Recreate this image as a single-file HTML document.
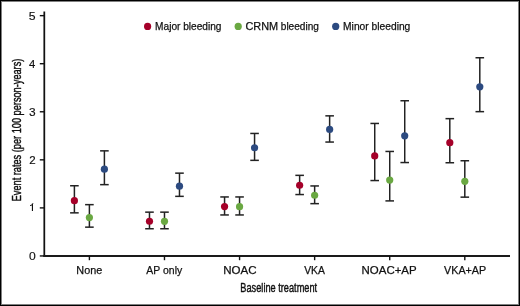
<!DOCTYPE html>
<html><head><meta charset="utf-8"><title>Event rates by baseline treatment</title><style>
html,body{margin:0;padding:0;background:#fff;}
body{width:520px;height:306px;overflow:hidden;position:relative;font-family:"Liberation Sans",sans-serif;}
svg{position:absolute;left:0;top:0;will-change:transform;}
text{font-family:"Liberation Sans",sans-serif;fill:#111;stroke:#111;}
.t{font-size:11px;stroke-width:0.25px;}
.d{font-size:11px;stroke-width:0.15px;}
.l{font-size:10.6px;stroke-width:0.25px;}
.a{font-size:13.3px;stroke-width:0.45px;stroke-linejoin:round;}
</style></head><body>
<svg width="520" height="306" viewBox="0 0 520 306">
<rect x="0" y="0" width="520" height="306" fill="#fff"/>
<line x1="44.3" y1="11.5" x2="44.3" y2="256.9" stroke="#111" stroke-width="1.75"/>
<line x1="43.4" y1="255.95" x2="510" y2="255.95" stroke="#1a1a1a" stroke-width="2"/>
<line x1="39.8" y1="255.95" x2="44" y2="255.95" stroke="#111" stroke-width="1.4"/>
<text x="28.90" y="260" textLength="6.75" lengthAdjust="spacingAndGlyphs" class="d">0</text>
<line x1="39.8" y1="207.89" x2="44" y2="207.89" stroke="#111" stroke-width="1.4"/>
<path d="M32.45 203.49 V210.99" stroke="#111" stroke-width="1.15" fill="none"/>
<path d="M33.0 203.59 Q32.3 205.49 30.1 205.59" stroke="#111" stroke-width="1.0" fill="none"/>
<line x1="39.8" y1="159.83" x2="44" y2="159.83" stroke="#111" stroke-width="1.4"/>
<text x="29.20" y="164" textLength="6.41" lengthAdjust="spacingAndGlyphs" class="d">2</text>
<line x1="39.8" y1="111.77" x2="44" y2="111.77" stroke="#111" stroke-width="1.4"/>
<text x="28.92" y="116" textLength="6.63" lengthAdjust="spacingAndGlyphs" class="d">3</text>
<line x1="39.8" y1="63.71" x2="44" y2="63.71" stroke="#111" stroke-width="1.4"/>
<text x="29.07" y="68" textLength="6.29" lengthAdjust="spacingAndGlyphs" class="d">4</text>
<line x1="39.8" y1="15.65" x2="44" y2="15.65" stroke="#111" stroke-width="1.4"/>
<text x="28.89" y="20" textLength="6.80" lengthAdjust="spacingAndGlyphs" class="d">5</text>
<line x1="89.40" y1="255.95" x2="89.40" y2="260.2" stroke="#111" stroke-width="1.4"/>
<text x="76.34" y="274" textLength="25.92" lengthAdjust="spacingAndGlyphs" class="t">None</text>
<line x1="74.40" y1="185.75" x2="74.40" y2="212.85" stroke="#222" stroke-width="1.5"/>
<line x1="70.10" y1="185.75" x2="78.70" y2="185.75" stroke="#222" stroke-width="1.5"/>
<line x1="70.10" y1="212.85" x2="78.70" y2="212.85" stroke="#222" stroke-width="1.5"/>
<circle cx="74.40" cy="200.65" r="3.6" fill="#a50029"/>
<line x1="89.40" y1="204.65" x2="89.40" y2="227.15" stroke="#222" stroke-width="1.5"/>
<line x1="85.10" y1="204.65" x2="93.70" y2="204.65" stroke="#222" stroke-width="1.5"/>
<line x1="85.10" y1="227.15" x2="93.70" y2="227.15" stroke="#222" stroke-width="1.5"/>
<circle cx="89.40" cy="217.55" r="3.6" fill="#6aa842"/>
<line x1="104.40" y1="150.85" x2="104.40" y2="184.65" stroke="#222" stroke-width="1.5"/>
<line x1="100.10" y1="150.85" x2="108.70" y2="150.85" stroke="#222" stroke-width="1.5"/>
<line x1="100.10" y1="184.65" x2="108.70" y2="184.65" stroke="#222" stroke-width="1.5"/>
<circle cx="104.40" cy="169.15" r="3.6" fill="#2c4a80"/>
<line x1="164.48" y1="255.95" x2="164.48" y2="260.2" stroke="#111" stroke-width="1.4"/>
<text x="146.35" y="274" textLength="35.84" lengthAdjust="spacingAndGlyphs" class="t">AP only</text>
<line x1="149.48" y1="212.15" x2="149.48" y2="228.75" stroke="#222" stroke-width="1.5"/>
<line x1="145.18" y1="212.15" x2="153.78" y2="212.15" stroke="#222" stroke-width="1.5"/>
<line x1="145.18" y1="228.75" x2="153.78" y2="228.75" stroke="#222" stroke-width="1.5"/>
<circle cx="149.48" cy="221.25" r="3.6" fill="#a50029"/>
<line x1="164.48" y1="212.15" x2="164.48" y2="228.75" stroke="#222" stroke-width="1.5"/>
<line x1="160.18" y1="212.15" x2="168.78" y2="212.15" stroke="#222" stroke-width="1.5"/>
<line x1="160.18" y1="228.75" x2="168.78" y2="228.75" stroke="#222" stroke-width="1.5"/>
<circle cx="164.48" cy="221.35" r="3.6" fill="#6aa842"/>
<line x1="179.48" y1="173.15" x2="179.48" y2="196.35" stroke="#222" stroke-width="1.5"/>
<line x1="175.18" y1="173.15" x2="183.78" y2="173.15" stroke="#222" stroke-width="1.5"/>
<line x1="175.18" y1="196.35" x2="183.78" y2="196.35" stroke="#222" stroke-width="1.5"/>
<circle cx="179.48" cy="186.15" r="3.6" fill="#2c4a80"/>
<line x1="239.56" y1="255.95" x2="239.56" y2="260.2" stroke="#111" stroke-width="1.4"/>
<text x="223.28" y="274" textLength="33.34" lengthAdjust="spacingAndGlyphs" class="t">NOAC</text>
<line x1="224.56" y1="196.95" x2="224.56" y2="214.95" stroke="#222" stroke-width="1.5"/>
<line x1="220.26" y1="196.95" x2="228.86" y2="196.95" stroke="#222" stroke-width="1.5"/>
<line x1="220.26" y1="214.95" x2="228.86" y2="214.95" stroke="#222" stroke-width="1.5"/>
<circle cx="224.56" cy="206.55" r="3.6" fill="#a50029"/>
<line x1="239.56" y1="196.95" x2="239.56" y2="214.95" stroke="#222" stroke-width="1.5"/>
<line x1="235.26" y1="196.95" x2="243.86" y2="196.95" stroke="#222" stroke-width="1.5"/>
<line x1="235.26" y1="214.95" x2="243.86" y2="214.95" stroke="#222" stroke-width="1.5"/>
<circle cx="239.56" cy="206.65" r="3.6" fill="#6aa842"/>
<line x1="254.56" y1="133.45" x2="254.56" y2="160.35" stroke="#222" stroke-width="1.5"/>
<line x1="250.26" y1="133.45" x2="258.86" y2="133.45" stroke="#222" stroke-width="1.5"/>
<line x1="250.26" y1="160.35" x2="258.86" y2="160.35" stroke="#222" stroke-width="1.5"/>
<circle cx="254.56" cy="147.75" r="3.6" fill="#2c4a80"/>
<line x1="314.64" y1="255.95" x2="314.64" y2="260.2" stroke="#111" stroke-width="1.4"/>
<text x="304.18" y="274" textLength="20.72" lengthAdjust="spacingAndGlyphs" class="t">VKA</text>
<line x1="299.64" y1="175.35" x2="299.64" y2="194.55" stroke="#222" stroke-width="1.5"/>
<line x1="295.34" y1="175.35" x2="303.94" y2="175.35" stroke="#222" stroke-width="1.5"/>
<line x1="295.34" y1="194.55" x2="303.94" y2="194.55" stroke="#222" stroke-width="1.5"/>
<circle cx="299.64" cy="185.25" r="3.6" fill="#a50029"/>
<line x1="314.64" y1="185.95" x2="314.64" y2="203.65" stroke="#222" stroke-width="1.5"/>
<line x1="310.34" y1="185.95" x2="318.94" y2="185.95" stroke="#222" stroke-width="1.5"/>
<line x1="310.34" y1="203.65" x2="318.94" y2="203.65" stroke="#222" stroke-width="1.5"/>
<circle cx="314.64" cy="195.25" r="3.6" fill="#6aa842"/>
<line x1="329.64" y1="115.85" x2="329.64" y2="142.05" stroke="#222" stroke-width="1.5"/>
<line x1="325.34" y1="115.85" x2="333.94" y2="115.85" stroke="#222" stroke-width="1.5"/>
<line x1="325.34" y1="142.05" x2="333.94" y2="142.05" stroke="#222" stroke-width="1.5"/>
<circle cx="329.64" cy="129.45" r="3.6" fill="#2c4a80"/>
<line x1="389.72" y1="255.95" x2="389.72" y2="260.2" stroke="#111" stroke-width="1.4"/>
<text x="361.58" y="274" textLength="55.09" lengthAdjust="spacingAndGlyphs" class="t">NOAC+AP</text>
<line x1="374.72" y1="123.45" x2="374.72" y2="180.55" stroke="#222" stroke-width="1.5"/>
<line x1="370.42" y1="123.45" x2="379.02" y2="123.45" stroke="#222" stroke-width="1.5"/>
<line x1="370.42" y1="180.55" x2="379.02" y2="180.55" stroke="#222" stroke-width="1.5"/>
<circle cx="374.72" cy="155.95" r="3.6" fill="#a50029"/>
<line x1="389.72" y1="151.45" x2="389.72" y2="200.90" stroke="#222" stroke-width="1.5"/>
<line x1="385.42" y1="151.45" x2="394.02" y2="151.45" stroke="#222" stroke-width="1.5"/>
<line x1="385.42" y1="200.90" x2="394.02" y2="200.90" stroke="#222" stroke-width="1.5"/>
<circle cx="389.72" cy="180.05" r="3.6" fill="#6aa842"/>
<line x1="404.72" y1="100.75" x2="404.72" y2="162.55" stroke="#222" stroke-width="1.5"/>
<line x1="400.42" y1="100.75" x2="409.02" y2="100.75" stroke="#222" stroke-width="1.5"/>
<line x1="400.42" y1="162.55" x2="409.02" y2="162.55" stroke="#222" stroke-width="1.5"/>
<circle cx="404.72" cy="135.85" r="3.6" fill="#2c4a80"/>
<line x1="464.80" y1="255.95" x2="464.80" y2="260.2" stroke="#111" stroke-width="1.4"/>
<text x="444.08" y="274" textLength="42.11" lengthAdjust="spacingAndGlyphs" class="t">VKA+AP</text>
<line x1="449.80" y1="118.65" x2="449.80" y2="162.75" stroke="#222" stroke-width="1.5"/>
<line x1="445.50" y1="118.65" x2="454.10" y2="118.65" stroke="#222" stroke-width="1.5"/>
<line x1="445.50" y1="162.75" x2="454.10" y2="162.75" stroke="#222" stroke-width="1.5"/>
<circle cx="449.80" cy="142.65" r="3.6" fill="#a50029"/>
<line x1="464.80" y1="160.75" x2="464.80" y2="197.15" stroke="#222" stroke-width="1.5"/>
<line x1="460.50" y1="160.75" x2="469.10" y2="160.75" stroke="#222" stroke-width="1.5"/>
<line x1="460.50" y1="197.15" x2="469.10" y2="197.15" stroke="#222" stroke-width="1.5"/>
<circle cx="464.80" cy="181.35" r="3.6" fill="#6aa842"/>
<line x1="479.80" y1="57.75" x2="479.80" y2="111.65" stroke="#222" stroke-width="1.5"/>
<line x1="475.50" y1="57.75" x2="484.10" y2="57.75" stroke="#222" stroke-width="1.5"/>
<line x1="475.50" y1="111.65" x2="484.10" y2="111.65" stroke="#222" stroke-width="1.5"/>
<circle cx="479.80" cy="86.85" r="3.6" fill="#2c4a80"/>
<circle cx="147.6" cy="26.4" r="3.6" fill="#a50029"/>
<text x="155.09" y="30" textLength="66.43" lengthAdjust="spacingAndGlyphs" class="l">Major bleeding</text>
<circle cx="238.2" cy="26.4" r="3.6" fill="#6aa842"/>
<text x="245.47" y="30" textLength="32.70" lengthAdjust="spacingAndGlyphs" class="l">CRNM</text>
<text x="280.77" y="30" textLength="38.15" lengthAdjust="spacingAndGlyphs" class="l">bleeding</text>
<circle cx="335.7" cy="26.4" r="3.6" fill="#2c4a80"/>
<text x="343.08" y="30" textLength="67.25" lengthAdjust="spacingAndGlyphs" class="l">Minor bleeding</text>
<text x="240.37" y="292" textLength="76.77" lengthAdjust="spacingAndGlyphs" class="a">Baseline treatment</text>
<text transform="rotate(-90)" x="-201.33" y="21.1" textLength="142.68" lengthAdjust="spacingAndGlyphs" class="a">Event rates (per 100 person-years)</text>
<rect x="1.5" y="1.5" width="517" height="303" fill="none" stroke="#808080" stroke-width="1"/>
<rect x="0.5" y="0.5" width="519" height="305" fill="none" stroke="#000" stroke-width="1"/>
</svg>
</body></html>
